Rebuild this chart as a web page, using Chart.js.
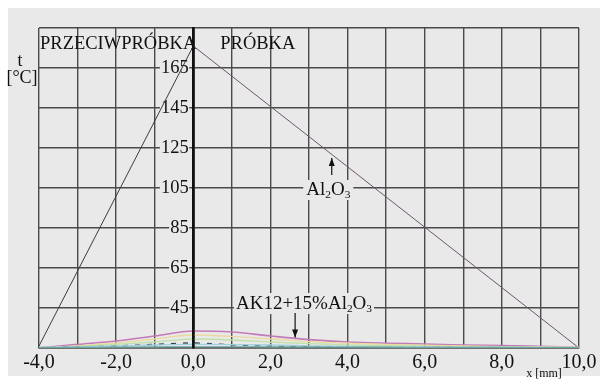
<!DOCTYPE html>
<html>
<head>
<meta charset="utf-8">
<script src="https://cdn.jsdelivr.net/npm/chart.js@4"></script>
<style>
  html, body { margin: 0; padding: 0; background: #ffffff; }
  canvas { display: block; }
</style>
</head>
<body>
<canvas id="c" width="607" height="381"></canvas>
<script>
// ---- data (x in mm, temperature in °C) ----
const positions = [-4, -3, -2, -1, 0, 1, 2, 3, 4, 5, 6, 7, 8, 9, 10];
const al2o3LeftX = [-4, 0];
const al2o3LeftT = [26, 176];
const al2o3RightX = [0, 10];
const al2o3RightT = [176, 25];
const compositeMagenta = [25, 26.8, 28.5, 31, 33.5, 33, 31, 29.2, 28, 27.4, 27, 26.5, 26.2, 25.8, 25.4];
const compositeYellow  = [25, 26, 27.5, 29.5, 31.5, 30.8, 29.5, 28.2, 27.4, 26.8, 26.4, 26, 25.7, 25.5, 25.3];
const compositeGreen   = [25, 25.8, 26.8, 28, 29.5, 29, 28, 27.2, 26.6, 26.2, 25.9, 25.6, 25.4, 25.3, 25.2];
const compositeDashed  = [25.2, 25.5, 26, 26.8, 27.5, 26.6, 26, 25.6, 25.4, 25.3, 25.3, 25.2, 25.2, 25.2, 25.2];
const compositeBlue    = [25.3, 25.6, 26, 26.5, 26.8, 26.7, 26.5, 26.1, 25.8, 25.6, 25.5, 25.4, 25.4, 25.3, 25.3];
const compositeTeal    = [25.2, 25.3, 25.4, 25.5, 25.6, 25.6, 25.5, 25.5, 25.4, 25.4, 25.3, 25.3, 25.3, 25.2, 25.2];
const xTickValues = [-4, -2, 0, 2, 4, 6, 8, 10];
const yTickValues = [45, 65, 85, 105, 125, 145, 165];

const FONT = "'Liberation Serif', 'Times New Roman', serif";
const pts = (xs, ys) => xs.map((x, i) => ({ x: x, y: ys[i] }));
const fmtX = v => v.toFixed(1).replace('.', ',');

const curve = (data, color, extra) => Object.assign({
  data: data, borderColor: color, borderWidth: 1.3, pointRadius: 0,
  cubicInterpolationMode: 'monotone', fill: false
}, extra || {});

const bgPlugin = {
  id: 'bg',
  beforeDraw(chart) {
    const { ctx, width, height } = chart;
    ctx.save();
    ctx.fillStyle = '#ffffff';
    ctx.fillRect(0, 0, width, height);
    ctx.fillStyle = '#e9e9e9';
    ctx.fillRect(8, 8, 592, 368);
    ctx.restore();
  }
};

function arrow(ctx, x, y1, y2) {
  ctx.beginPath();
  ctx.moveTo(x, y1);
  ctx.lineTo(x, y2);
  ctx.stroke();
  const dir = y2 > y1 ? 1 : -1;
  ctx.beginPath();
  ctx.moveTo(x, y2);
  ctx.lineTo(x - 3, y2 - dir * 8);
  ctx.lineTo(x + 3, y2 - dir * 8);
  ctx.closePath();
  ctx.fill();
}

function chemLabel(ctx, parts, x, y, size) {
  let cx = x;
  parts.forEach(([t, sub]) => {
    ctx.font = (sub ? size * 0.6 : size) + 'px ' + FONT;
    ctx.fillText(t, cx, sub ? y + 3 : y);
    cx += ctx.measureText(t).width;
  });
  return cx - x;
}
function chemWidth(ctx, parts, size) {
  let w = 0;
  parts.forEach(([t, sub]) => {
    ctx.font = (sub ? size * 0.6 : size) + 'px ' + FONT;
    w += ctx.measureText(t).width;
  });
  return w;
}

const textPlugin = {
  id: 'texts',
  afterDraw(chart) {
    const { ctx } = chart;
    const xs = chart.scales.x, ys = chart.scales.y;
    ctx.save();
    ctx.setLineDash([]);
    ctx.fillStyle = '#111111';
    ctx.strokeStyle = '#111111';
    ctx.lineWidth = 1.2;
    ctx.textBaseline = 'alphabetic';
    ctx.textAlign = 'left';

    // region headers
    ctx.font = '18.5px ' + FONT;
    ctx.fillText('PRZECIWPRÓBKA', xs.getPixelForValue(-4) + 1, ys.getPixelForValue(174.5));
    ctx.fillText('PRÓBKA', xs.getPixelForValue(0.7), ys.getPixelForValue(174.5));

    // axis unit labels
    ctx.textAlign = 'center';
    ctx.font = '18px ' + FONT;
    ctx.fillText('t', 20, 66);
    ctx.fillText('[°C]', 22, 83);
    ctx.font = '12px ' + FONT;
    ctx.fillText('x [mm]', 544, 377);
    ctx.textAlign = 'left';

    const size = 19;
    // Al2O3 label
    const alParts = [['Al', false], ['2', true], ['O', false], ['3', true]];
    let w = chemWidth(ctx, alParts, size);
    let cx = xs.getPixelForValue(3.5), by = ys.getPixelForValue(101.5);
    ctx.fillStyle = '#e9e9e9';
    ctx.fillRect(cx - w / 2 - 3, by - 15, w + 6, 20);
    ctx.fillStyle = '#111111';
    chemLabel(ctx, alParts, cx - w / 2, by, size);
    arrow(ctx, xs.getPixelForValue(3.59), ys.getPixelForValue(111.5), ys.getPixelForValue(120));

    // composite label
    const akParts = [['AK12+15%Al', false], ['2', true], ['O', false], ['3', true]];
    w = chemWidth(ctx, akParts, size);
    cx = xs.getPixelForValue(2.87); by = ys.getPixelForValue(44.5);
    ctx.fillStyle = '#e9e9e9';
    ctx.fillRect(cx - w / 2 - 2, by - 16, w + 4, 21);
    ctx.fillStyle = '#111111';
    chemLabel(ctx, akParts, cx - w / 2, by, size);
    arrow(ctx, xs.getPixelForValue(2.64), ys.getPixelForValue(42.5), ys.getPixelForValue(30.2));

    ctx.restore();
  }
};

new Chart(document.getElementById('c'), {
  type: 'line',
  data: {
    datasets: [
      curve(pts(positions, compositeTeal), '#6fa8a0'),
      curve(pts(positions, compositeBlue), '#9fcfe0'),
      curve(pts(positions, compositeDashed), '#2b4650', { borderDash: [5, 7], borderWidth: 1.4 }),
      curve(pts(positions, compositeGreen), '#bfe0a8'),
      curve(pts(positions, compositeYellow), '#ead9a0'),
      curve(pts(positions, compositeMagenta), '#c27ab8', { borderWidth: 1.6 }),
      curve(pts(al2o3LeftX, al2o3LeftT), '#3c3c3c', { borderWidth: 1, cubicInterpolationMode: 'default', tension: 0 }),
      curve(pts(al2o3RightX, al2o3RightT), '#6e556e', { borderWidth: 1, cubicInterpolationMode: 'default', tension: 0 })
    ]
  },
  options: {
    responsive: false,
    animation: false,
    events: [],
    layout: { padding: { left: 39, right: 28, top: 28, bottom: 0 } },
    plugins: { legend: { display: false }, tooltip: { enabled: false }, title: { display: false } },
    scales: {
      x: {
        type: 'linear',
        min: -4, max: 10,
        afterFit: s => { s.height = 33; },
        afterBuildTicks: s => { s.ticks = positions.map(v => ({ value: v })); },
        ticks: {
          autoSkip: false, maxRotation: 0, padding: 3,
          color: '#111111',
          font: { family: FONT, size: 20 },
          callback: v => xTickValues.includes(v) ? fmtX(v) : ''
        },
        grid: {
          drawTicks: false,
          color: c => (c.tick && c.tick.value === 0) ? '#111111' : '#4a4a4a',
          lineWidth: c => (c.tick && c.tick.value === 0) ? 2.6 : 1.4
        },
        border: { display: true, color: '#4a4a4a', width: 1.4, dash: [] }
      },
      y: {
        type: 'linear',
        min: 25, max: 185,
        position: { x: 0 },
        afterBuildTicks: s => { s.ticks = [25].concat(yTickValues, [185]).map(v => ({ value: v })); },
        ticks: {
          autoSkip: false, padding: 5,
          color: '#111111',
          font: { family: FONT, size: 18.5 },
          showLabelBackdrop: c => !!(c.tick && yTickValues.includes(c.tick.value)),
          backdropColor: '#e9e9e9',
          backdropPadding: { left: 1, right: -4, top: -2, bottom: -2 },
          callback: v => yTickValues.includes(v) ? String(v) + ' ' : ''
        },
        grid: { drawTicks: false, color: '#4a4a4a', lineWidth: 1.4 },
        border: { display: true, color: '#111111', width: 2.6, z: 1 }
      }
    }
  },
  plugins: [bgPlugin, textPlugin]
});
</script>
</body>
</html>
